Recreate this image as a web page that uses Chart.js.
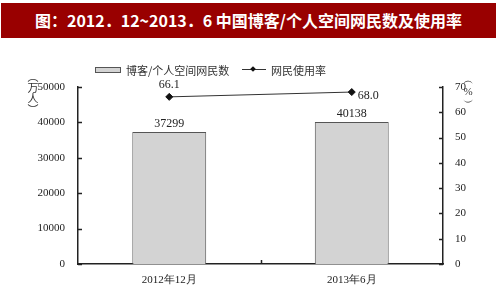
<!DOCTYPE html>
<html>
<head>
<meta charset="utf-8">
<script src="https://cdn.jsdelivr.net/npm/chart.js@4"></script>
<style>
  body { margin: 0; background: #fff; }
  #wrap { position: relative; width: 497px; height: 297px; overflow: hidden; }
  #banner {
    position: absolute; left: 1px; top: 3px; width: 495px; height: 35px;
    background: #990000; color: #fff; font: bold 16px "Noto Sans CJK SC";
    line-height: 35px; text-align: center; white-space: nowrap;
  }
  .lbl { position: absolute; color: #333; font: 11px "Noto Sans CJK SC"; white-space: nowrap; }
  .stack { text-align: center; width: 12px; line-height: 11px; }
  #box { position: absolute; left: 95px; top: 67px; width: 24px; height: 4px; background: #d3d3d3; border: 1px solid #555; }
  #lline { position: absolute; left: 242px; top: 69px; width: 24px; height: 1px; background: #333; }
  #ldot { position: absolute; left: 251px; top: 67px; width: 4px; height: 4px; background: #111; transform: rotate(45deg); }
</style>
</head>
<body>
<div id="wrap">
  <canvas id="mainChart" width="497" height="297"></canvas>
  <div id="banner">图：2012．12~2013．6 中国博客/个人空间网民数及使用率</div>
  <div id="box"></div>
  <div class="lbl" style="left:126px; top:62px;">博客/个人空间网民数</div>
  <div id="lline"></div>
  <div id="ldot"></div>
  <div class="lbl" style="left:271px; top:62px;">网民使用率</div>
  <div class="lbl stack" style="left:27px; top:71px;">︵<br>万<br>人<br>︶</div>
  <div class="lbl stack" style="left:462px; top:75px; font-family:'Liberation Serif', serif;">︵<br>%<br>︶</div>
</div>
<script>
const categories = ["2012年12月", "2013年6月"];
const users = [37299, 40138];
const rates = [66.1, 68.0];
const leftTicks = [0, 10000, 20000, 30000, 40000, 50000];
const rightTicks = [0, 10, 20, 30, 40, 50, 60, 70];

const serif = "'Liberation Serif', 'DejaVu Serif', serif";

// short tick marks drawn inward from each axis line
const innerTicks = {
  id: "innerTicks",
  afterDraw(chart) {
    const c = chart.ctx;
    const a = chart.chartArea;
    c.save();
    c.strokeStyle = "#222";
    c.lineWidth = 1.5;
    chart.scales.y.ticks.forEach(t => {
      const y = Math.round(chart.scales.y.getPixelForValue(t.value)) + 0.5;
      c.beginPath(); c.moveTo(a.left, y); c.lineTo(a.left + 4, y); c.stroke();
    });
    chart.scales.y1.ticks.forEach(t => {
      const y = Math.round(chart.scales.y1.getPixelForValue(t.value)) + 0.5;
      c.beginPath(); c.moveTo(a.right, y); c.lineTo(a.right - 4, y); c.stroke();
    });
    const x = chart.scales.x;
    for (let i = 1; i < categories.length; i++) {
      const px = Math.round((x.getPixelForValue(i - 1) + x.getPixelForValue(i)) / 2) + 0.5;
      c.beginPath(); c.moveTo(px, a.bottom); c.lineTo(px, a.bottom - 4); c.stroke();
    }
    c.restore();
  }
};

// value labels over bars and next to line points
const valueLabels = {
  id: "valueLabels",
  afterDatasetsDraw(chart) {
    const c = chart.ctx;
    c.save();
    c.fillStyle = "#222";
    c.font = "12px " + serif;
    c.textAlign = "center";
    c.textBaseline = "bottom";
    chart.getDatasetMeta(0).data.forEach((el, i) => {
      c.fillText(String(users[i]), el.x, el.y - 2);
    });
    const pts = chart.getDatasetMeta(1).data;
    c.textBaseline = "middle";
    pts.forEach((el, i) => {
      const txt = rates[i].toFixed(1);
      if (i === 0) {
        c.textAlign = "center";
        c.fillText(txt, el.x, el.y - 12);
      } else {
        c.textAlign = "left";
        c.fillText(txt, el.x + 6, el.y + 4);
      }
    });
    c.restore();
  }
};

new Chart(document.getElementById("mainChart"), {
  data: {
    labels: categories,
    datasets: [
      {
        type: "bar", label: "博客/个人空间网民数", data: users, yAxisID: "y",
        backgroundColor: "#d3d3d3", borderColor: "#555", borderWidth: 1,
        categoryPercentage: 1, barPercentage: 0.405, order: 2
      },
      {
        type: "line", label: "网民使用率", data: rates, yAxisID: "y1",
        borderColor: "#333", borderWidth: 1, pointStyle: "rectRot",
        pointRadius: 3.5, pointBackgroundColor: "#111", pointBorderColor: "#111", order: 1
      }
    ]
  },
  options: {
    responsive: false,
    animation: false,
    layout: {padding: {top: 87, left: 0, right: 0, bottom: 0}},
    plugins: {legend: {display: false}, tooltip: {enabled: false}},
    scales: {
      x: {
        offset: true,
        grid: {display: false},
        border: {display: true, color: "#222", width: 1.5},
        ticks: {color: "#222", font: {family: serif, size: 11}, padding: 2},
        afterFit(s) { s.height = 33; }
      },
      y: {
        position: "left", min: 0, max: 50000,
        afterBuildTicks(s) { s.ticks = leftTicks.map(v => ({value: v})); },
        grid: {display: false},
        border: {display: true, color: "#222", width: 1.5},
        ticks: {color: "#222", font: {family: serif, size: 11}, padding: 5, callback: v => String(v)},
        afterFit(s) { s.width = 78; }
      },
      y1: {
        position: "right", min: 0, max: 70,
        afterBuildTicks(s) { s.ticks = rightTicks.map(v => ({value: v})); },
        grid: {display: false},
        border: {display: true, color: "#222", width: 1.5},
        ticks: {color: "#222", font: {family: serif, size: 11}, padding: 4, callback: v => String(v)},
        afterFit(s) { s.width = 54; }
      }
    }
  },
  plugins: [innerTicks, valueLabels]
});
</script>
</body>
</html>
